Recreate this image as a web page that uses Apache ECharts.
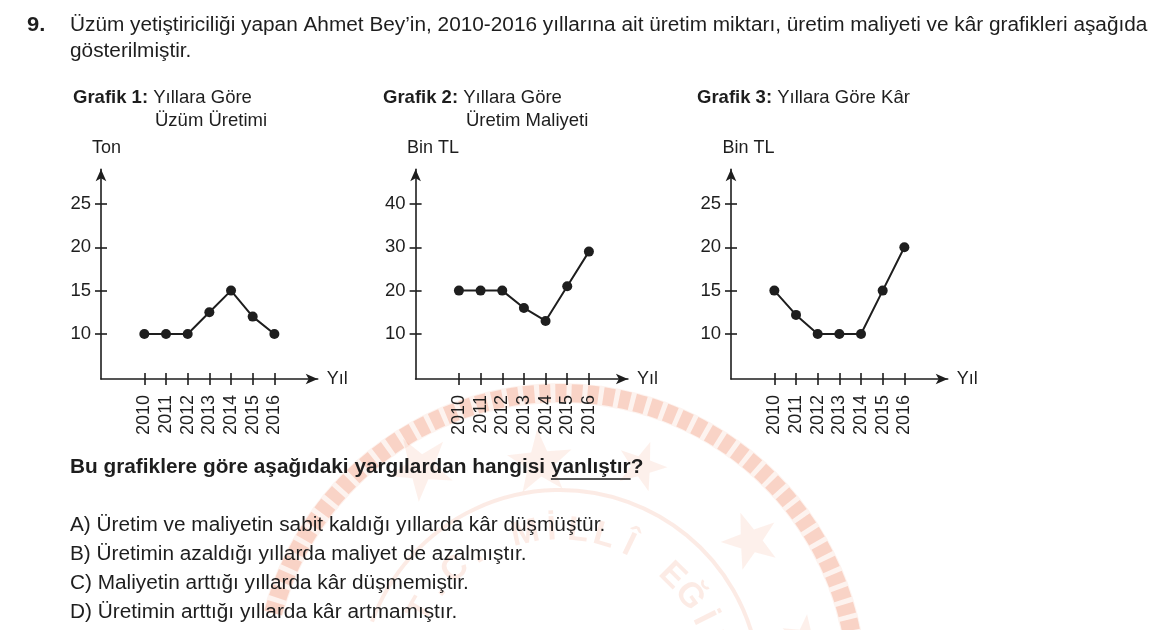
<!DOCTYPE html>
<html>
<head>
<meta charset="utf-8">
<script src="https://cdn.jsdelivr.net/npm/echarts@6/dist/echarts.min.js"></script>
<style>
html,body{margin:0;padding:0;background:#fff;}
#c{width:1166px;height:630px;}
</style>
</head>
<body>
<div id="c"></div>
<script>
// ---- data ----
const years = [2010, 2011, 2012, 2013, 2014, 2015, 2016];
const uretim = [10, 10, 10, 12.5, 15, 12, 10];        // Ton
const maliyet = [20, 20, 20, 16, 13, 21, 29];         // Bin TL
const kar = [15, 12.2, 10, 10, 10, 15, 20];           // Bin TL
const yTicks1 = [10, 15, 20, 25];
const yTicks2 = [10, 20, 30, 40];
const yTicks3 = [10, 15, 20, 25];

const FONT = '"Liberation Sans", Arial, Helvetica, sans-serif';
const INK = '#1e1e1e';

const charts = [
  {left: 101, top: 169.3, width: 216.7, height: 209.7, xmin: 2008, xmax: 2018, ymin: 4.8, ymax: 29, ticks: yTicks1, data: uretim, yname: 'Ton', namePad: 11},
  {left: 415.6, top: 169.3, width: 212.3, height: 209.7, xmin: 2008, xmax: 2017.8, ymin: -0.4, ymax: 48, ticks: yTicks2, data: maliyet, yname: 'Bin TL', namePad: 35},
  {left: 731, top: 169.3, width: 216.7, height: 209.7, xmin: 2008, xmax: 2018, ymin: 4.8, ymax: 29, ticks: yTicks3, data: kar, yname: 'Bin TL', namePad: 35}
];

const grid = [], xAxis = [], yAxis = [], series = [];
charts.forEach((c, i) => {
  grid.push({left: c.left, top: c.top, width: c.width, height: c.height, containLabel: false});
  const lineStyle = {color: INK, width: 1.6};
  xAxis.push({
    gridIndex: i, type: 'value', min: c.xmin, max: c.xmax, position: 'bottom',
    name: 'Yıl', nameLocation: 'end', nameGap: 9,
    nameTextStyle: {fontFamily: FONT, fontSize: 18, color: INK},
    axisLine: {show: true, onZero: false, symbol: ['none', 'arrow'], symbolSize: [8, 12], lineStyle},
    axisTick: {show: true, length: 6, customValues: years, lineStyle},
    axisLabel: {show: true, customValues: years, rotate: 90, margin: 16, fontFamily: FONT, fontSize: 18, color: INK,
      formatter: v => String(Math.round(v))},
    splitLine: {show: false}
  });
  xAxis.push({
    gridIndex: i, type: 'value', min: c.xmin, max: c.xmax, position: 'bottom',
    axisLine: {show: false, onZero: false},
    axisTick: {show: true, inside: true, length: 6, customValues: years, lineStyle},
    axisLabel: {show: false}, splitLine: {show: false}
  });
  yAxis.push({
    gridIndex: i, type: 'value', min: c.ymin, max: c.ymax, position: 'left',
    name: c.yname, nameLocation: 'end', nameGap: 12,
    nameTextStyle: {fontFamily: FONT, fontSize: 18, color: INK, padding: [0, 0, 0, c.namePad]},
    axisLine: {show: true, onZero: false, symbol: ['none', 'arrow'], symbolSize: [8, 12], lineStyle},
    axisTick: {show: true, length: 6, customValues: c.ticks, lineStyle},
    axisLabel: {show: true, customValues: c.ticks, margin: 10, fontFamily: FONT, fontSize: 18.5, color: INK},
    splitLine: {show: false}
  });
  yAxis.push({
    gridIndex: i, type: 'value', min: c.ymin, max: c.ymax, position: 'left',
    axisLine: {show: false, onZero: false},
    axisTick: {show: true, inside: true, length: 6, customValues: c.ticks, lineStyle},
    axisLabel: {show: false}, splitLine: {show: false}
  });
  series.push({
    type: 'line', xAxisIndex: i * 2, yAxisIndex: i * 2,
    data: years.map((y, k) => [y, c.data[k]]),
    symbol: 'circle', symbolSize: 10, showSymbol: true,
    itemStyle: {color: INK}, lineStyle: {color: INK, width: 2},
    silent: true, animation: false, z: 5
  });
});

// ---- body text settings ----
const BODY_SIZE = 20, BODY_SX = 1.04;
const mctx = document.createElement('canvas').getContext('2d');
const qFont = 'bold ' + BODY_SIZE + 'px ' + FONT;
mctx.font = qFont;
const qPrefix = 'Bu grafiklere göre aşağıdaki yargılardan hangisi ';
const qWord = 'yanlıştır';
const qX = 70, qY = 467;
const ulStart = qX + mctx.measureText(qPrefix).width * BODY_SX;
const ulEnd = ulStart + mctx.measureText(qWord).width * BODY_SX;

// ---- watermark (faint seal) ----
const wm = [];
const WC = [560, 690];
const deg = Math.PI / 180;
wm.push({type: 'arc', shape: {cx: WC[0], cy: WC[1], r: 297, startAngle: -165 * deg, endAngle: 20 * deg, clockwise: true},
  style: {fill: 'none', stroke: 'rgba(238,120,80,0.09)', lineWidth: 20}, z: -10, silent: true});
wm.push({type: 'arc', shape: {cx: WC[0], cy: WC[1], r: 297, startAngle: -165 * deg, endAngle: 20 * deg, clockwise: true},
  style: {fill: 'none', stroke: 'rgba(238,120,80,0.26)', lineWidth: 18, lineDash: [11, 5]}, z: -10, silent: true});
wm.push({type: 'arc', shape: {cx: WC[0], cy: WC[1], r: 200, startAngle: -160 * deg, endAngle: 10 * deg, clockwise: true},
  style: {fill: 'none', stroke: 'rgba(238,120,80,0.15)', lineWidth: 4}, z: -10, silent: true});
const letters = 'T.C. MİLLÎ EĞİTİM'.split('');
letters.forEach((ch, k) => {
  const ang = (-150 + k * 9.5) * deg;
  const r = 160;
  wm.push({type: 'text', x: WC[0] + r * Math.cos(ang), y: WC[1] + r * Math.sin(ang), rotation: -(ang + Math.PI / 2),
    style: {text: ch, font: 'bold 34px ' + FONT, fill: 'rgba(238,120,80,0.15)', textAlign: 'center', textVerticalAlign: 'middle'}, z: -10, silent: true});
});
[[-122, 262, 34], [-95, 228, 34], [-70, 238, 26], [-38, 242, 30], [-12, 250, 24]].forEach(([a, r, s]) => {
  const cx = WC[0] + r * Math.cos(a * deg), cy = WC[1] + r * Math.sin(a * deg);
  const pts = [];
  for (let k = 0; k < 10; k++) {
    const rr = k % 2 === 0 ? s : s * 0.4;
    const t = -Math.PI / 2 + k * Math.PI / 5 + (a + 90) * deg;
    pts.push([cx + rr * Math.cos(t), cy + rr * Math.sin(t)]);
  }
  wm.push({type: 'polygon', shape: {points: pts}, style: {fill: 'rgba(240,130,90,0.12)'}, z: -10, silent: true});
});

const txt = (text, x, y, font, sx) => ({type: 'text', x, y, scaleX: sx || 1, silent: true,
  style: {text, font, fill: INK, textVerticalAlign: 'middle', textAlign: 'left'}});
const bodyFont = BODY_SIZE + 'px ' + FONT;
const titleRich = {b: {fontWeight: 'bold', fontFamily: FONT, fontSize: 18.5, fill: INK}};
const title = (text, x, y) => ({type: 'text', x, y, silent: true,
  style: {text, font: '18.5px ' + FONT, fill: INK, textVerticalAlign: 'middle', rich: titleRich}});

const graphics = wm.concat([
  txt('9.', 27, 25, 'bold 20px ' + FONT, 1.1),
  txt('Üzüm yetiştiriciliği yapan Ahmet Bey’in, 2010-2016 yıllarına ait üretim miktarı, üretim maliyeti ve kâr grafikleri aşağıda', 70, 25, bodyFont, BODY_SX),
  txt('gösterilmiştir.', 70, 51, bodyFont, BODY_SX),
  title('{b|Grafik 1:} Yıllara Göre', 73, 98),
  title('Üzüm Üretimi', 155, 121),
  title('{b|Grafik 2:} Yıllara Göre', 383, 98),
  title('Üretim Maliyeti', 466, 121),
  title('{b|Grafik 3:} Yıllara Göre Kâr', 697, 98),
  txt(qPrefix + qWord + '?', qX, qY, qFont, BODY_SX),
  {type: 'line', silent: true, shape: {x1: ulStart, y1: qY + 12, x2: ulEnd, y2: qY + 12}, style: {stroke: INK, lineWidth: 1.6}},
  txt('A) Üretim ve maliyetin sabit kaldığı yıllarda kâr düşmüştür.', 70, 525, bodyFont, BODY_SX),
  txt('B) Üretimin azaldığı yıllarda maliyet de azalmıştır.', 70, 554, bodyFont, BODY_SX),
  txt('C) Maliyetin arttığı yıllarda kâr düşmemiştir.', 70, 583, bodyFont, BODY_SX),
  txt('D) Üretimin arttığı yıllarda kâr artmamıştır.', 70, 612, bodyFont, BODY_SX)
]);

const chart = echarts.init(document.getElementById('c'), null, {renderer: 'canvas'});
chart.setOption({
  backgroundColor: '#ffffff',
  animation: false,
  textStyle: {fontFamily: FONT},
  grid, xAxis, yAxis, series,
  graphic: graphics
});
</script>
</body>
</html>
